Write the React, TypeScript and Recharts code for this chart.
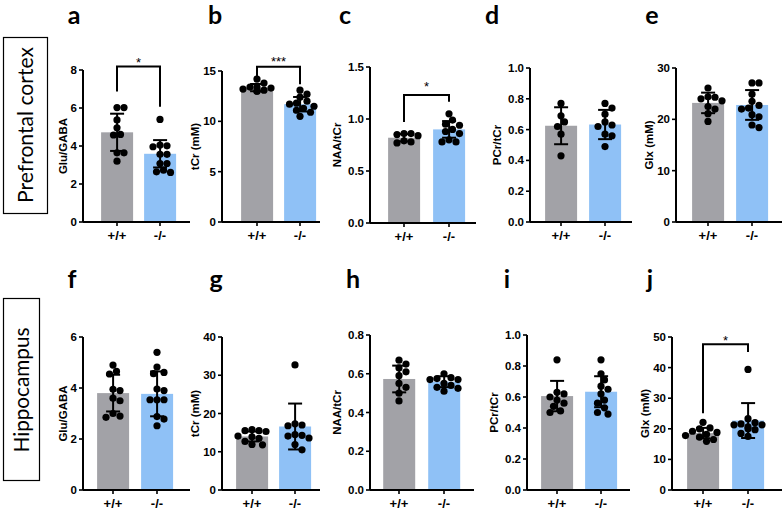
import React from "react";
import {
  Bar,
  ComposedChart,
  ErrorBar,
  ReferenceLine,
  Scatter,
  XAxis,
  YAxis,
} from "recharts";

const FONT = '"Liberation Sans", Arial, sans-serif';
const GRAY = "#a2a2a7";
const BLUE = "#8fc1f6";
const BAR_W = 32;

const groups = ["+/+", "-/-"];

// a — prefrontal Glu/GABA
const aTicks = [0, 2, 4, 6, 8];
const aWT = [6.02, 6.02, 5.37, 4.96, 4.61, 4.58, 3.64, 3.64, 3.2];
const aKO = [5.4, 4.05, 4.01, 3.96, 3.56, 3.56, 3.08, 3.08, 2.73, 2.64, 2.61];
const aMean = [4.72, 3.59];
const aSD = [0.98, 0.72];
const aSig = [6.87, 8.19, 6.07, 8.54];

// b — prefrontal tCr
const bTicks = [0, 5, 10, 15];
const bWT = [14.2, 13.8, 13.4, 13.4, 13.3, 13.2, 13.1, 13.0, 13.0];
const bKO = [13.1, 12.7, 12.4, 12.0, 11.8, 11.7, 11.5, 11.3, 11.1, 10.9, 10.5];
const bMean = [13.35, 11.7];
const bSD = [0.36, 0.72];
const bSig = [14.11, 15.43, 13.68, 16.19];

// c — prefrontal NAA/tCr
const cTicks = [0, 0.5, 1, 1.5];
const cWT = [0.86, 0.86, 0.85, 0.84, 0.79, 0.78, 0.77];
const cKO = [1.05, 0.99, 0.95, 0.94, 0.9, 0.88, 0.86, 0.8, 0.78, 0.78];
const cMean = [0.82, 0.9];
const cSD = [0.035, 0.08];
const cSig = [0.97, 1.23, 1.165, 1.34];

// d — prefrontal PCr/tCr
const dTicks = [0, 0.2, 0.4, 0.6, 0.8, 1.0];
const dWT = [0.77, 0.69, 0.65, 0.62, 0.57, 0.43];
const dKO = [0.77, 0.74, 0.7, 0.65, 0.63, 0.62, 0.57, 0.56, 0.49];
const dMean = [0.625, 0.633];
const dSD = [0.12, 0.095];

// e — prefrontal Glx
const eTicks = [0, 10, 20, 30];
const eWT = [26.1, 24.4, 24.3, 24.0, 23.6, 22.5, 22.0, 21.1, 19.6];
const eKO = [27.1, 27.1, 24.9, 23.5, 22.7, 22.2, 22.0, 20.9, 20.5, 18.9, 18.4];
const eMean = [23.2, 22.8];
const eSD = [2.0, 2.9];

// f — hippocampus Glu/GABA
const fTicks = [0, 2, 4, 6];
const fWT = [4.9, 4.65, 4.55, 3.95, 3.9, 3.6, 3.5, 3.0, 2.9, 2.85];
const fKO = [5.4, 4.82, 4.61, 4.56, 3.96, 3.9, 3.54, 3.54, 3.54, 2.88, 2.78, 2.52];
const fMean = [3.8, 3.77];
const fSD = [0.72, 0.88];

// g — hippocampus tCr
const gTicks = [0, 10, 20, 30, 40];
const gWT = [15.8, 15.5, 15.5, 15.3, 14.1, 13.9, 13.5, 12.7, 11.9, 11.8];
const gKO = [32.7, 17.3, 17.0, 16.8, 14.5, 14.3, 14.1, 13.6, 11.9, 10.5];
const gMean = [14.0, 16.6];
const gSD = [1.3, 6.0];

// h — hippocampus NAA/tCr
const hTicks = [0, 0.2, 0.4, 0.6, 0.8];
const hWT = [0.67, 0.65, 0.63, 0.61, 0.59, 0.55, 0.53, 0.5, 0.46];
const hKO = [0.6, 0.58, 0.575, 0.57, 0.57, 0.55, 0.54, 0.53, 0.525, 0.51];
const hMean = [0.573, 0.559];
const hSD = [0.069, 0.028];

// i — hippocampus PCr/tCr
const iTicks = [0, 0.2, 0.4, 0.6, 0.8, 1.0];
const iWT = [0.84, 0.63, 0.62, 0.6, 0.58, 0.56, 0.54, 0.51, 0.5];
const iKO = [0.84, 0.75, 0.71, 0.67, 0.65, 0.62, 0.58, 0.56, 0.53, 0.5, 0.49];
const iMean = [0.606, 0.634];
const iSD = [0.098, 0.1];

// j — hippocampus Glx
const jTicks = [0, 10, 20, 30, 40, 50];
const jWT = [22.1, 20.3, 20.0, 19.2, 18.8, 18.2, 17.8, 17.3, 16.5, 15.9];
const jKO = [39.4, 23.3, 22.0, 21.6, 21.3, 21.3, 20.6, 20.0, 19.7, 18.5, 17.5];
const jMean = [18.6, 22.7];
const jSD = [1.7, 5.7];
const jSig = [25.1, 47.6, 45.1, 49.8];

// where each panel's axes sit on the page
const layA = { axisX: 83, c0: 117, c1: 160, xEnd: 190, yTop: 70, y0: 222, top: 0 };
const layB = { axisX: 222, c0: 257, c1: 300, xEnd: 320, yTop: 71, y0: 222, top: 0 };
const layC = { axisX: 370, c0: 404, c1: 449, xEnd: 476, yTop: 67, y0: 223, top: 0 };
const layD = { axisX: 530, c0: 561, c1: 605, xEnd: 632, yTop: 68, y0: 222, top: 0 };
const layE = { axisX: 676, c0: 708, c1: 752, xEnd: 782, yTop: 68, y0: 222, top: 0 };
const layF = { axisX: 83, c0: 113, c1: 157, xEnd: 190, yTop: 337, y0: 490, top: 255 };
const layG = { axisX: 222, c0: 252, c1: 295, xEnd: 320, yTop: 337, y0: 490, top: 255 };
const layH = { axisX: 370, c0: 399, c1: 444, xEnd: 474, yTop: 335, y0: 490, top: 255 };
const layI = { axisX: 527, c0: 557, c1: 601, xEnd: 630, yTop: 335, y0: 490, top: 255 };
const layJ = { axisX: 672, c0: 703, c1: 748, xEnd: 782, yTop: 337, y0: 490, top: 255 };

const panels = [
  { ticks: aTicks, wt: aWT, ko: aKO, mean: aMean, sd: aSD, label: "Glu/GABA", dec: 0, sig: aSig, star: "*", lay: layA },
  { ticks: bTicks, wt: bWT, ko: bKO, mean: bMean, sd: bSD, label: "tCr (mM)", dec: 0, sig: bSig, star: "***", lay: layB },
  { ticks: cTicks, wt: cWT, ko: cKO, mean: cMean, sd: cSD, label: "NAA/tCr", dec: 1, sig: cSig, star: "*", lay: layC },
  { ticks: dTicks, wt: dWT, ko: dKO, mean: dMean, sd: dSD, label: "PCr/tCr", dec: 1, lay: layD },
  { ticks: eTicks, wt: eWT, ko: eKO, mean: eMean, sd: eSD, label: "Glx (mM)", dec: 0, lay: layE },
  { ticks: fTicks, wt: fWT, ko: fKO, mean: fMean, sd: fSD, label: "Glu/GABA", dec: 0, lay: layF },
  { ticks: gTicks, wt: gWT, ko: gKO, mean: gMean, sd: gSD, label: "tCr (mM)", dec: 0, lay: layG },
  { ticks: hTicks, wt: hWT, ko: hKO, mean: hMean, sd: hSD, label: "NAA/tCr", dec: 1, lay: layH },
  { ticks: iTicks, wt: iWT, ko: iKO, mean: iMean, sd: iSD, label: "PCr/tCr", dec: 1, lay: layI },
  { ticks: jTicks, wt: jWT, ko: jKO, mean: jMean, sd: jSD, label: "Glx (mM)", dec: 0, sig: jSig, star: "*", lay: layJ },
];

const letters = [
  { t: "a", x: 74, y: 24 },
  { t: "b", x: 215, y: 24 },
  { t: "c", x: 345, y: 24 },
  { t: "d", x: 492, y: 24 },
  { t: "e", x: 652, y: 24 },
  { t: "f", x: 72, y: 288 },
  { t: "g", x: 216, y: 288 },
  { t: "h", x: 353, y: 288 },
  { t: "i", x: 507, y: 288 },
  { t: "j", x: 650, y: 288 },
];

// simple beeswarm: spread dots sideways (in px) so they don't sit on top of each other
function swarm(vals: number[], ppu: number) {
  const d = 6.8;
  const cands = [0];
  for (let k = 1; k <= 5; k++) cands.push(k * 3.5, -k * 3.5);
  const order = vals.map((_, i) => i).sort((a, b) => vals[b] - vals[a]);
  const placed: { x: number; y: number }[] = [];
  const offs = vals.map(() => 0);
  for (const i of order) {
    const y = vals[i] * ppu;
    const c =
      cands.find((c) => placed.every((p) => (p.x - c) ** 2 + (p.y - y) ** 2 >= d * d)) ?? 0;
    offs[i] = c;
    placed.push({ x: c, y });
  }
  return offs;
}

function YLabel({ lx, ly, text }: any) {
  return (
    <text
      x={lx}
      y={ly}
      transform={`rotate(-90 ${lx} ${ly})`}
      textAnchor="middle"
      dominantBaseline="central"
      style={{ fontFamily: FONT, fontSize: 11.5, fontWeight: 700, fill: "#000" }}
    >
      {text}
    </text>
  );
}

// fixed-width bar centred on its x value
function BarShape(props: any) {
  const { x, y, width, height, payload } = props;
  const cx = x + width / 2;
  return (
    <rect
      x={cx - BAR_W / 2}
      y={y}
      width={BAR_W}
      height={height}
      fill={payload.x === 0 ? GRAY : BLUE}
    />
  );
}

function Panel({ p }: { p: any }) {
  const { axisX, c0, c1, xEnd, yTop, y0, top } = p.lay;
  const T = p.ticks[p.ticks.length - 1];
  const D = T * 1.25;
  const pTop = y0 - ((y0 - yTop) * D) / T;
  const yw = 48;
  const left = axisX - yw;
  const width = xEnd - left + 2;
  const height = y0 - top + 30;
  const s = c1 - c0;
  const lo = -(c0 - axisX) / s;
  const hi = 1 + (xEnd - c1) / s;
  const ppu = (y0 - yTop) / T;
  const fmt = (v: number) => v.toFixed(p.dec);

  const bars = groups.map((_, i) => ({ x: i, y: p.mean[i], sd: p.sd[i] }));
  const dots = [p.wt, p.ko].flatMap((vals: number[], gi: number) => {
    const offs = swarm(vals, ppu);
    return vals.map((v, k) => ({ x: gi + offs[k] / s, y: v }));
  });
  const chars = Math.max(...p.ticks.map((t: number) => fmt(t).length));
  const dist = 14 + 6.4 * chars;

  const bracket = p.sig
    ? [
        { x: 0, y: p.sig[0] },
        { x: 0, y: p.sig[1] },
        { x: 1, y: p.sig[1] },
        { x: 1, y: p.sig[2] },
      ]
    : null;

  return (
    <div style={{ position: "absolute", left, top }}>
      <ComposedChart
        width={width}
        height={height}
        data={bars}
        margin={{ top: pTop - top, right: 2, bottom: 0, left: 0 }}
      >
        <XAxis
          type="number"
          dataKey="x"
          domain={[lo, hi]}
          ticks={[0, 1]}
          tickFormatter={(v) => groups[v] ?? ""}
          axisLine={{ stroke: "#000", strokeWidth: 2 }}
          tickLine={{ stroke: "#000", strokeWidth: 1.6 }}
          tickSize={4}
          tickMargin={5}
          tick={{ fill: "#000", fontSize: 13, fontWeight: 700, fontFamily: FONT }}
          height={30}
        />
        <YAxis
          type="number"
          dataKey="y"
          domain={[0, D]}
          ticks={p.ticks}
          tickFormatter={fmt}
          axisLine={false}
          tickLine={{ stroke: "#000", strokeWidth: 1.6 }}
          tickSize={4}
          tickMargin={2}
          width={yw}
          tick={{ fill: "#000", fontSize: 11.5, fontWeight: 700, fontFamily: FONT }}
          label={<YLabel lx={yw - dist} ly={(yTop + y0) / 2 - top} text={p.label} />}
        />
        <ReferenceLine
          segment={[
            { x: lo, y: 0 },
            { x: lo, y: T },
          ]}
          stroke="#000"
          strokeWidth={2}
          ifOverflow="visible"
        />
        <Bar dataKey="y" isAnimationActive={false} shape={<BarShape />}>
          <ErrorBar dataKey="sd" width={7} stroke="#000" strokeWidth={2} direction="y" />
        </Bar>
        <Scatter
          data={dots}
          dataKey="y"
          isAnimationActive={false}
          shape={(d: any) => <circle cx={d.cx} cy={d.cy} r={3.6} fill="#000" />}
        />
        {bracket && (
          <Scatter
            data={bracket}
            dataKey="y"
            isAnimationActive={false}
            line={{ stroke: "#000", strokeWidth: 2 }}
            shape={() => <g />}
          />
        )}
        {p.sig && (
          <Scatter
            data={[{ x: 0.5, y: p.sig[3] }]}
            dataKey="y"
            isAnimationActive={false}
            shape={(d: any) => (
              <text
                x={d.cx}
                y={d.cy}
                dy={7}
                textAnchor="middle"
                style={{ fontFamily: FONT, fontSize: 13, fill: "#000" }}
              >
                {p.star}
              </text>
            )}
          />
        )}
      </ComposedChart>
    </div>
  );
}

export default function App() {
  return (
    <div
      style={{
        position: "absolute",
        left: 0,
        top: 0,
        width: 784,
        height: 513,
        background: "#fff",
        overflow: "hidden",
      }}
    >
      {panels.map((p, i) => (
        <Panel key={i} p={p} />
      ))}
      <svg
        width={784}
        height={513}
        style={{ position: "absolute", left: 0, top: 0, pointerEvents: "none" }}
      >
        {letters.map((l) => (
          <text
            key={l.t}
            x={l.x}
            y={l.y}
            textAnchor="middle"
            style={{ fontFamily: "Lato, 'Open Sans', sans-serif", fontSize: 25, fontWeight: 700, fill: "#000" }}
          >
            {l.t}
          </text>
        ))}
        <rect x={3.5} y={37.5} width={44} height={176} fill="none" stroke="#000" strokeWidth={1.2} />
        <text
          x={33}
          y={125}
          transform="rotate(-90 33 125)"
          textAnchor="middle"
          textLength={156}
          lengthAdjust="spacingAndGlyphs"
          style={{ fontFamily: "Lato, sans-serif", fontSize: 22, fill: "#000" }}
        >
          Prefrontal cortex
        </text>
        <rect x={3.5} y={298.5} width={36} height={182} fill="none" stroke="#000" strokeWidth={1.2} />
        <text
          x={29}
          y={390}
          transform="rotate(-90 29 390)"
          textAnchor="middle"
          textLength={125}
          lengthAdjust="spacingAndGlyphs"
          style={{ fontFamily: "Lato, sans-serif", fontSize: 22, fill: "#000" }}
        >
          Hippocampus
        </text>
      </svg>
    </div>
  );
}
